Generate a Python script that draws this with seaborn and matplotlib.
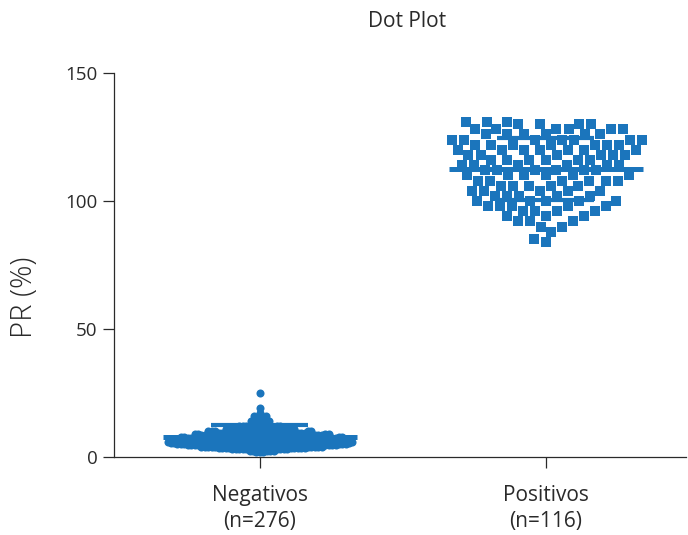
import numpy as np
import pandas as pd
import matplotlib
matplotlib.use("Agg")
import matplotlib.pyplot as plt
import seaborn as sns

# ---- data ----
groups = ["Negativos", "Positivos"]

neg_values = [2, 2.5, 3, 3.5, 4, 4.5, 5, 5.5, 6, 6.5, 7, 7.5, 8, 8.5, 9, 9.5,
              10, 10.5, 11, 11.5, 12, 13, 14, 15, 16, 17, 19, 25]
neg_counts = [3, 5, 9, 12, 15, 17, 18, 18, 19, 18, 18, 17, 16, 15, 13, 12,
              10, 9, 7, 5, 5, 4, 3, 3, 2, 1, 1, 1]

pos_values = [84, 85, 88, 90, 92, 94, 96, 98, 100, 102, 104, 106, 108, 110,
              112, 114, 116, 118, 120, 122, 124, 126, 128, 130, 131]
pos_counts = [1, 1, 1, 2, 3, 3, 4, 5, 5, 5, 5, 5, 6, 6,
              6, 6, 6, 6, 7, 7, 7, 6, 6, 4, 3]

mean_values = [7.8, 112.5]
sd_values = [4.7, 12.2]
y_ticks = [0, 50, 100, 150]

# ---- style ----
sns.set_theme(style="ticks")
plt.rcParams['font.family'] = ['Open Sans', 'DejaVu Sans']
blue = "#1b75bc"
dark = "#2a2a2a"

neg = np.repeat(neg_values, neg_counts)
pos = np.repeat(pos_values, pos_counts)
labels = [f"{groups[0]}\n(n={len(neg)})", f"{groups[1]}\n(n={len(pos)})"]
df = pd.DataFrame({
    "group": [labels[0]] * len(neg) + [labels[1]] * len(pos),
    "value": np.concatenate([neg, pos]),
})

fig = plt.figure(figsize=(6.88, 5.35), dpi=100)
ax = fig.add_axes([114 / 688, 78 / 535, 572 / 688, 384 / 535])

n0 = len(ax.collections)
sns.swarmplot(data=df[df.group == labels[0]], x="group", y="value", order=labels,
              marker="o", size=2.4, color=blue, linewidth=0, ax=ax, warn_thresh=1)
neg_colls = [c for c in ax.collections[n0:] if len(c.get_offsets())]
n1 = len(ax.collections)
sns.swarmplot(data=df[df.group == labels[1]], x="group", y="value", order=labels,
              marker="s", size=8.3, color=blue, linewidth=0, ax=ax, warn_thresh=1)
pos_colls = [c for c in ax.collections[n1:] if len(c.get_offsets())]

ax.set_xlim(-0.51, 1.49)
ax.set_ylim(0, 150)

# mean and SD lines
for i, (m, s) in enumerate(zip(mean_values, sd_values)):
    ax.hlines(m, i - 0.34, i + 0.34, color=blue, linewidth=3.6, zorder=10)
    ax.hlines([m - s, m + s], i - 0.17, i + 0.17, color=blue, linewidth=3.0, zorder=10)

ax.set_yticks(y_ticks)
ax.set_xlabel("")
ax.set_ylabel("PR (%)", fontsize=21, fontweight="light", color=dark)
ax.yaxis.set_label_coords(-0.131, 0.415)
ax.set_title("Dot Plot", fontsize=15, color=dark, pad=33, x=0.512)
sns.despine(ax=ax)
for sp in ["left", "bottom"]:
    ax.spines[sp].set_color(dark)
    ax.spines[sp].set_linewidth(0.9)
ax.tick_params(axis="y", length=8, width=0.9, color=dark, labelsize=13.5,
               labelcolor=dark, pad=4)
ax.tick_params(axis="x", length=8, width=0.9, color=dark, labelsize=15,
               labelcolor=dark, pad=12)
for t in ax.get_xticklabels():
    t.set_linespacing(1.35)

# compute swarm layout with one marker size, then show the final marker size
fig.canvas.draw()
for c in neg_colls:
    if "draw" in c.__dict__:
        del c.draw
    c.set_sizes([5.8 ** 2])
for c in pos_colls:
    if "draw" in c.__dict__:
        del c.draw
    c.set_sizes([6.6 ** 2])

fig.savefig("out.png", dpi=100)
